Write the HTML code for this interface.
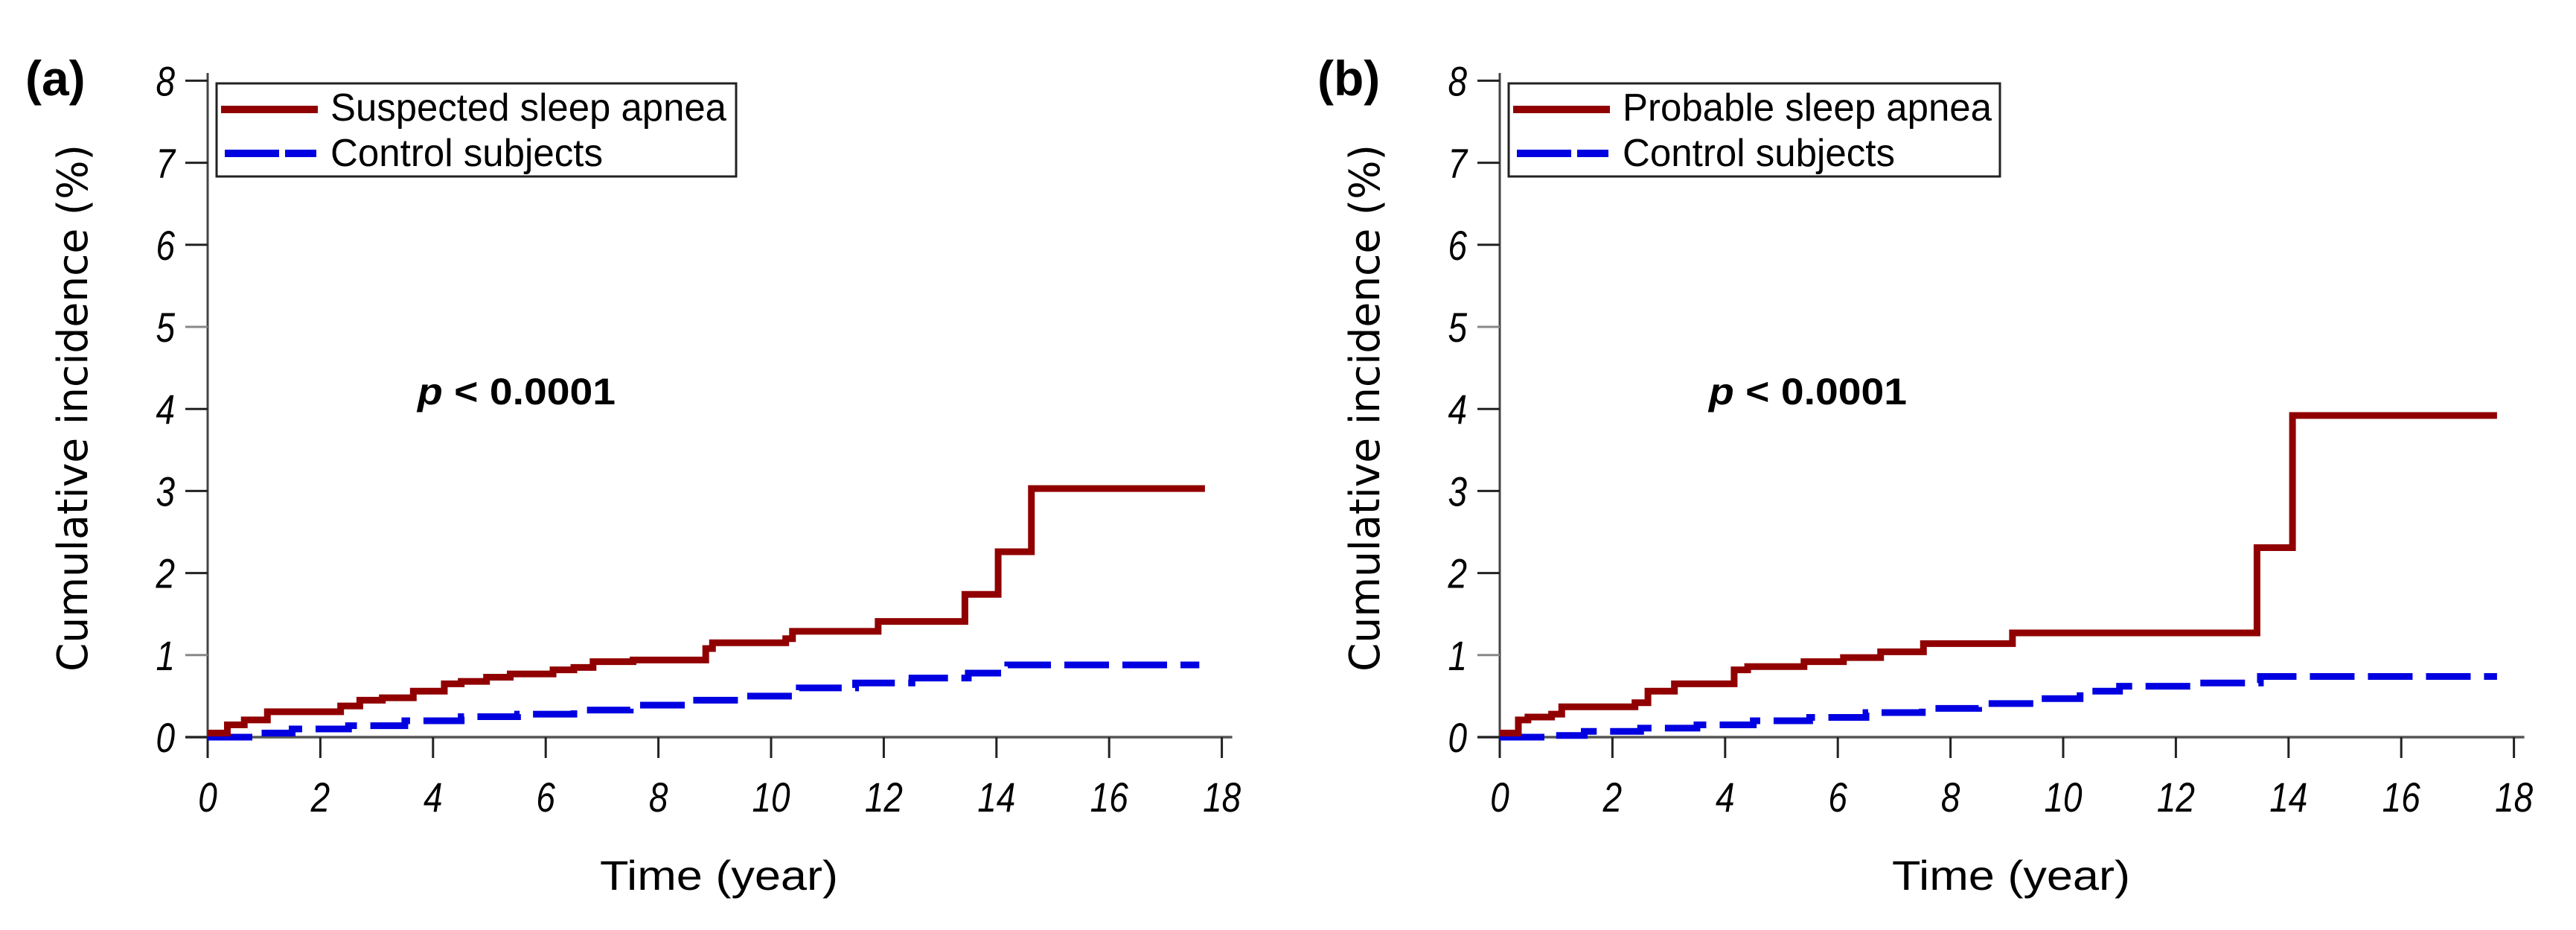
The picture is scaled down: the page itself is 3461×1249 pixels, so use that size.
<!DOCTYPE html>
<html><head><meta charset="utf-8"><style>
html,body{margin:0;padding:0;background:#fff;}
svg{display:block;font-family:"Liberation Sans",sans-serif;}
</style></head><body>
<svg id="fig" width="3461" height="1249" viewBox="0 0 3461 1249" xmlns="http://www.w3.org/2000/svg">
<rect width="3461" height="1249" fill="#fff"/>
</svg>
<script>
// ---------- data ----------
const xTicks = [0,2,4,6,8,10,12,14,16,18];
const yTicks = [0,1,2,3,4,5,6,7,8];
// Panel (a)
const aRedT = [0,0.35,0.65,1.06,2.36,2.7,3.1,3.65,4.2,4.5,4.95,5.37,6.13,6.5,6.84,7.55,8.84,8.96,10.26,10.38,11.9,13.44,14.03,14.62,17.7];
const aRedV = [0.05,0.15,0.21,0.31,0.38,0.45,0.48,0.56,0.65,0.68,0.73,0.77,0.82,0.85,0.92,0.94,1.08,1.15,1.2,1.29,1.41,1.74,2.26,3.03,3.03];
const aBlueT = [0,0.8,1.5,2.5,3.5,4.5,5.5,6.5,7.5,8.5,9.5,10.5,11.5,12.5,13.5,14.2,17.6];
const aBlueV = [0,0.05,0.1,0.14,0.2,0.25,0.28,0.33,0.39,0.45,0.5,0.6,0.66,0.72,0.78,0.88,0.88];
// Panel (b)
const bRedT = [0,0.33,0.5,0.92,1.1,2.4,2.63,3.1,4.16,4.4,5.4,6.1,6.76,7.52,9.1,13.44,14.07,17.7];
const bRedV = [0.05,0.21,0.245,0.28,0.37,0.42,0.56,0.65,0.82,0.86,0.92,0.97,1.04,1.14,1.27,2.31,3.92,3.92];
const bBlueT = [0,0.8,1.5,2.5,3.5,4.5,5.5,6.5,7.5,8.5,9.5,10.3,11,12.3,13.5,17.7];
const bBlueV = [0,0.02,0.07,0.11,0.15,0.2,0.24,0.3,0.35,0.41,0.47,0.56,0.62,0.66,0.74,0.74];
const aLegend = ["Suspected sleep apnea","Control subjects"];
const bLegend = ["Probable sleep apnea","Control subjects"];

const NS="http://www.w3.org/2000/svg";
const svg=document.getElementById('fig');
function el(tag,attrs,parent,text){const e=document.createElementNS(NS,tag);for(const k in attrs)e.setAttribute(k,attrs[k]);if(text!==undefined)e.textContent=text;(parent||svg).appendChild(e);return e;}

function panel(p){
  const X0=p.ax, Y0=990, PX=75.7, PY=110.2;
  const sx=t=>X0+t*PX, sy=v=>Y0-v*PY;
  const g=el('g',{});
  
  
  const lab=el('text',{x:X0-245,y:128,'font-size':66,'font-weight':'bold'},g,p.label);
  
  
  const ya=el('line',{x1:X0,y1:98,x2:X0,y2:Y0+28,stroke:'#444','stroke-width':3},g);
  
  
  const xa=el('line',{x1:X0-30,y1:Y0,x2:sx(18)+14,y2:Y0,stroke:'#555','stroke-width':3.5},g);
  
  
  yTicks.forEach(v=>{
    el('line',{x1:X0-30,y1:sy(v),x2:X0,y2:sy(v),stroke:(v%4==1?'#888':'#222'),'stroke-width':3},g);
    const t=el('text',{'text-anchor':'end','font-size':56,'font-style':'italic',transform:`translate(${X0-44},${sy(v)+20}) scale(0.82,1)`},g,String(v));
    
    
  });
  xTicks.forEach(v=>{
    el('line',{x1:sx(v),y1:Y0,x2:sx(v),y2:Y0+28,stroke:'#222','stroke-width':3},g);
    const t=el('text',{'text-anchor':'middle','font-size':56,'font-style':'italic',transform:`translate(${sx(v)},${1090}) scale(0.82,1)`},g,String(v));
    
    
  });
  const xt=el('text',{x:sx(0)+687,y:1195,'text-anchor':'middle','font-size':56,textLength:320,lengthAdjust:'spacingAndGlyphs'},g,'Time (year)');
  
  
  const yt=el('text',{'text-anchor':'middle','font-size':56,transform:`translate(${X0-162},548) rotate(-90)`,textLength:708,lengthAdjust:'spacingAndGlyphs','font-family':'DejaVu Sans, sans-serif'},g,'Cumulative incidence (%)');
  
  
  const pt=el('text',{x:p.px,y:543,'font-size':50,'font-weight':'bold',textLength:266,lengthAdjust:'spacingAndGlyphs'},g);
  el('tspan',{'font-style':'italic'},pt,'p');
  el('tspan',{},pt,' < 0.0001');
  
  
  function stepPath(T,V){let d=`M${sx(T[0])},${sy(V[0])}`;for(let i=1;i<T.length;i++){d+=` H${sx(T[i])} V${sy(V[i])}`;}return d;}
  const blue=el('path',{d:stepPath(p.bt,p.bv),fill:'none',stroke:'#0000e0','stroke-width':9,'stroke-dasharray':'60 18'},g);
  
  
  const red=el('path',{d:stepPath(p.rt,p.rv),fill:'none',stroke:'#900000','stroke-width':9},g);
  
  
  const lg=el('g',{},g);
  
  
  el('rect',{x:X0+12,y:112,width:p.lw,height:125,fill:'#fff',stroke:'#222','stroke-width':3},lg);
  el('line',{x1:X0+18,y1:147,x2:X0+148,y2:147,stroke:'#900000','stroke-width':10},lg);
  el('line',{x1:X0+23,y1:206,x2:X0+146,y2:206,stroke:'#0000e0','stroke-width':10,'stroke-dasharray':'73 8 42 100'},lg);
  const l1=el('text',{x:X0+165,y:162,'font-size':52,textLength:p.tw,lengthAdjust:'spacingAndGlyphs'},lg,p.leg[0]);
  
  
  const l2=el('text',{x:X0+165,y:223,'font-size':52,textLength:366,lengthAdjust:'spacingAndGlyphs'},lg,p.leg[1]);
  
  
}
panel({id:'a',label:'(a)',ax:279,px:561,rt:aRedT,rv:aRedV,bt:aBlueT,bv:aBlueV,leg:aLegend,lw:698,tw:532});
panel({id:'b',label:'(b)',ax:2015,px:2296,rt:bRedT,rv:bRedV,bt:bBlueT,bv:bBlueV,leg:bLegend,lw:660,tw:496});
</script>
</body></html>
